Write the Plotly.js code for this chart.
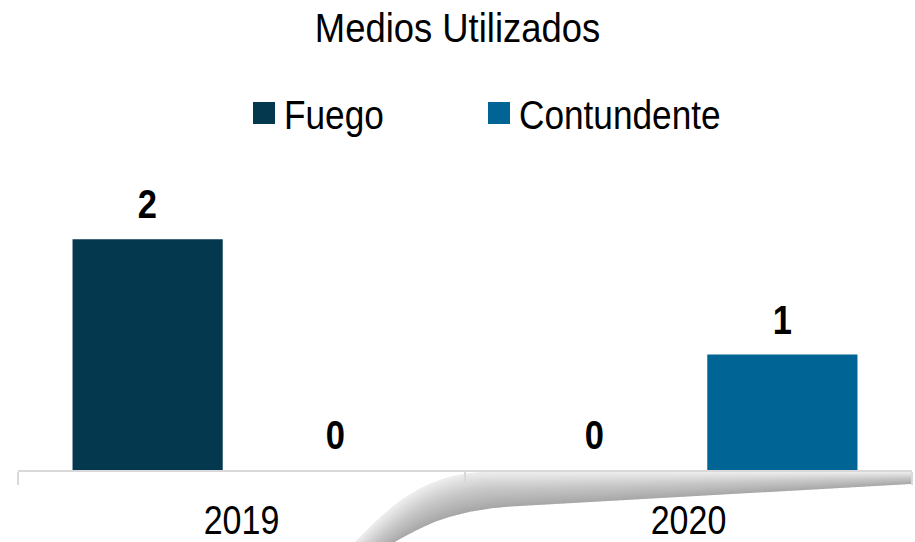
<!DOCTYPE html>
<html>
<head>
<meta charset="utf-8">
<script src="https://cdn.plot.ly/plotly-3.0.1.min.js"></script>
<style>html,body{margin:0;padding:0;background:#fff;}#chart{width:915px;height:542px;}</style>
</head>
<body>
<div id="chart"></div>
<script>
var years = ["2019", "2020"];
var seriesNames = ["Fuego", "Contundente"];
var fuegoValues = [2, 0];
var contundenteValues = [0, 1];
var seriesColors = ["#03384f", "#006494"];
var chartTitle = "Medios Utilizados";

var FONT = "'Liberation Sans', Arial, sans-serif";
var W = 915, H = 542;
var M = {l: 18, r: 3, t: 170, b: 72};
var bargap = 0.16, bargroupgap = 0.2;

function px(p) {
  var pw = W - M.l - M.r, ph = H - M.t - M.b;
  return ((p[0] - M.l) / pw).toFixed(4) + "," + ((H - M.b - p[1]) / ph).toFixed(4);
}
// decorative page-curl shadow below the axis
var curlB = [[395, 542], [425, 525], [450, 512], [505, 507], [912, 484]];
var curlT = [[355, 542], [392, 503], [425, 476], [480, 472], [912, 472]];
function curlLayer(s) {
  var U = curlB.map(function (b, i) {
    return [b[0] + s * (curlT[i][0] - b[0]), b[1] + s * (curlT[i][1] - b[1])];
  });
  return "M" + px(curlB[0]) + " C" + px(curlB[1]) + " " + px(curlB[2]) + " " + px(curlB[3]) +
    " L" + px(curlB[4]) + " L" + px(U[4]) + " L" + px(U[3]) +
    " C" + px(U[2]) + " " + px(U[1]) + " " + px(U[0]) + " Z";
}
var shapes = [];
for (var k = 0; k < 16; k++) {
  var s = 1 - k / 16;
  shapes.push({type: "path", xref: "paper", yref: "paper", layer: "below",
    path: curlLayer(s), fillcolor: "rgba(0,0,0," + (k === 0 ? 0.08 : 0.02) + ")", line: {width: 0}});
}

var allValues = [fuegoValues, contundenteValues];
var traces = allValues.map(function (vals, i) {
  return {type: "bar", name: seriesNames[i], x: years, y: vals,
    marker: {color: seriesColors[i]}, hoverinfo: "none"};
});

var offsets = [-(1 - bargap) / 4, (1 - bargap) / 4];
var annotations = [];
allValues.forEach(function (vals, i) {
  vals.forEach(function (v, j) {
    annotations.push({x: j + offsets[i], y: v, xref: "x", yref: "y",
      text: "<b>" + v + "</b>", showarrow: false, yanchor: "bottom", yshift: 10,
      font: {family: FONT, size: 41, color: "#000"}});
  });
});

var layout = {
  width: W, height: H,
  margin: M,
  paper_bgcolor: "#fff", plot_bgcolor: "#fff",
  title: {text: chartTitle, x: 0.5, xref: "container", xanchor: "center",
    y: 1 - 28 / H, yref: "container", yanchor: "middle",
    font: {family: FONT, size: 40, color: "#000"}},
  barmode: "group", bargap: bargap, bargroupgap: bargroupgap,
  showlegend: true,
  legend: {orientation: "h", xref: "container", yref: "container",
    x: 244 / W, xanchor: "left", y: 1 - 113 / H, yanchor: "middle",
    entrywidth: 190, entrywidthmode: "pixels",
    font: {family: FONT, size: 40, color: "#000"}, itemclick: false},
  xaxis: {type: "category", showline: true, linecolor: "#d9d9d9", linewidth: 1.5,
    ticks: "outside", tickson: "boundaries", ticklen: 13, tickcolor: "#d9d9d9",
    tickwidth: 1.5, showgrid: false, zeroline: false, fixedrange: true,
    ticklabelstandoff: 14,
    tickfont: {family: FONT, size: 40, color: "#000"}},
  yaxis: {visible: false, range: [0, 2.6], fixedrange: true},
  shapes: shapes,
  annotations: annotations
};

function condense(sel, f) {
  document.querySelectorAll("#chart " + sel).forEach(function (t) {
    var len = t.getComputedTextLength();
    if (len > 0) {
      t.setAttribute("textLength", (len * f).toFixed(1));
      t.setAttribute("lengthAdjust", "spacingAndGlyphs");
    }
  });
}

Plotly.newPlot("chart", traces, layout, {displayModeBar: false, staticPlot: true}).then(function () {
  condense(".gtitle", 0.91);
  condense(".legendtext", 0.88);
  condense(".xtick text", 0.85);
  condense(".annotation-text", 0.84);
  document.querySelectorAll("#chart .legendpoints path").forEach(function (p) {
    p.setAttribute("d", "M11,11H-11V-11H11Z");
  });
  document.querySelectorAll("#chart .legend [clip-path]").forEach(function (e) {
    e.removeAttribute("clip-path");
  });
});
</script>
</body>
</html>
